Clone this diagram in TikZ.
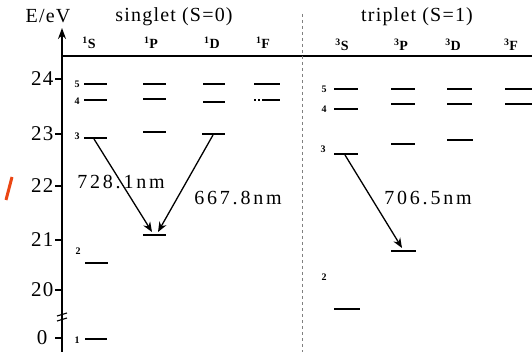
\documentclass[tikz,border=0pt]{standalone}
\usepackage{fontspec}
\setmainfont{Liberation Serif}
\newfontfamily\widefont[LetterSpace=6]{Liberation Serif}
\newfontfamily\widerfont[LetterSpace=14]{Liberation Serif}
\usetikzlibrary{arrows.meta}
\definecolor{slashred}{RGB}{235,70,20}
\begin{document}
\begin{tikzpicture}[x=1pt,y=-1pt,
  lvl/.style={line width=1.8pt},
  axisline/.style={line width=1.7pt},
  trans/.style={line width=1.3pt,-{Stealth[length=10pt,width=8pt]}},
  big/.style={font=\widefont\fontsize{20}{22}\selectfont},
  wl/.style={font=\widerfont\fontsize{20}{22}\selectfont},
  tlab/.style={font=\widefont\fontsize{21}{22}\selectfont,anchor=east},
  term/.style={font=\fontsize{14}{15}\selectfont\bfseries},
  num/.style={font=\fontsize{10}{11}\selectfont\bfseries}]
\useasboundingbox (0,0) rectangle (532,352);
% axis
\draw[axisline,-{Stealth[length=11pt,width=8pt]}] (62,352) -- (62,28) coordinate (axtop);
\draw[axisline] (62,56) coordinate (top-l) -- (532,56) coordinate (top-r);
\draw[gray,dashed,line width=0.8pt] (302,14) coordinate (sep-t) -- (302,352) coordinate (sep-b);
% ticks
\foreach \y/\t/\n/\x in {79/24/t24/57,134/23/t23/57,186/22/t22/57,240/21/t21/57,290/20/t20/57,338/0/t0/51}{
  \draw[axisline] (55,\y) -- (62,\y);
  \node[tlab] (\n) at (\x,\y) {\t};
}
\draw[line width=1.1pt] (57,316) -- (67,313);
\draw[line width=1.1pt] (57,321) -- (67,318);
% titles
\node[big] (elab) at (48,16) {E/eV};
\node[big] (sing) at (174,17) {singlet (S=0)};
\node[big] (trip) at (417,17) {triplet (S=1)};
% term labels
\node[term] (S1) at (89,43) {\textsuperscript{1}S};
\node[term] (P1) at (151,43) {\textsuperscript{1}P};
\node[term] (D1) at (212,43) {\textsuperscript{1}D};
\node[term] (F1) at (263,43) {\textsuperscript{1}F};
\node[term] (S3) at (342,45) {\textsuperscript{3}S};
\node[term] (P3) at (401,45) {\textsuperscript{3}P};
\node[term] (D3) at (453,45) {\textsuperscript{3}D};
\node[term] (F3) at (511,45) {\textsuperscript{3}F};
% singlet levels
\draw[lvl] (84,84) -- (107,84);
\draw[lvl] (84,100) -- (107,100);
\draw[lvl] (84,138) -- (107,138);
\draw[lvl] (85,263) -- (108,263);
\draw[lvl] (85,339) -- (107,339);
\node[num] (n5a) at (77,84) {5};
\node[num] (n4a) at (77,101) {4};
\node[num] (n3a) at (77,136) {3};
\node[num] (n2a) at (78,251) {2};
\node[num] (n1a) at (77,340) {1};
\draw[lvl] (143,84) -- (166,84);
\draw[lvl] (143,99) -- (166,99);
\draw[lvl] (143,132) -- (166,132);
\draw[lvl] (143,235) -- (166,235);
\draw[lvl] (203,84) -- (225,84);
\draw[lvl] (203,102) -- (225,102);
\draw[lvl] (202,134) -- (225,134);
\draw[lvl] (254,84) -- (280,84);
\draw[lvl,dash pattern=on 2pt off 2pt] (254,100) -- (262,100);
\draw[lvl] (262,100) -- (280,100);
% triplet levels
\draw[lvl] (334,89) -- (358,89);
\draw[lvl] (334,109) -- (358,109);
\draw[lvl] (334,154) -- (358,154);
\draw[lvl] (334,309) -- (360,309);
\node[num] (n5b) at (324,89) {5};
\node[num] (n4b) at (324,109) {4};
\node[num] (n3b) at (323,149) {3};
\node[num] (n2b) at (324,277) {2};
\draw[lvl] (391,89) -- (415,89);
\draw[lvl] (391,104) -- (415,104);
\draw[lvl] (391,144) -- (415,144);
\draw[lvl] (391,251) -- (416,251);
\draw[lvl] (447,89) -- (472,89);
\draw[lvl] (447,104) -- (472,104);
\draw[lvl] (447,140) -- (473,140);
\draw[lvl] (505,89) -- (532,89);
\draw[lvl] (505,104) -- (532,104);
% transitions
\coordinate (a1s) at (94,139);
\coordinate (a1e) at (152,232);
\coordinate (a2s) at (213,135);
\coordinate (a2e) at (158,232);
\coordinate (a3s) at (345,155);
\coordinate (a3e) at (402,248);
\draw[trans] (a1s) -- (a1e);
\draw[trans] (a2s) -- (a2e);
\draw[trans] (a3s) -- (a3e);
\node[wl] (w1) at (121,182) {728.1nm};
\node[wl] (w2) at (238,198) {667.8nm};
\node[wl] (w3) at (428,198) {706.5nm};
% red mark
\draw[slashred,line width=3pt] (12,177) -- (6,200);
\end{tikzpicture}
\end{document}
